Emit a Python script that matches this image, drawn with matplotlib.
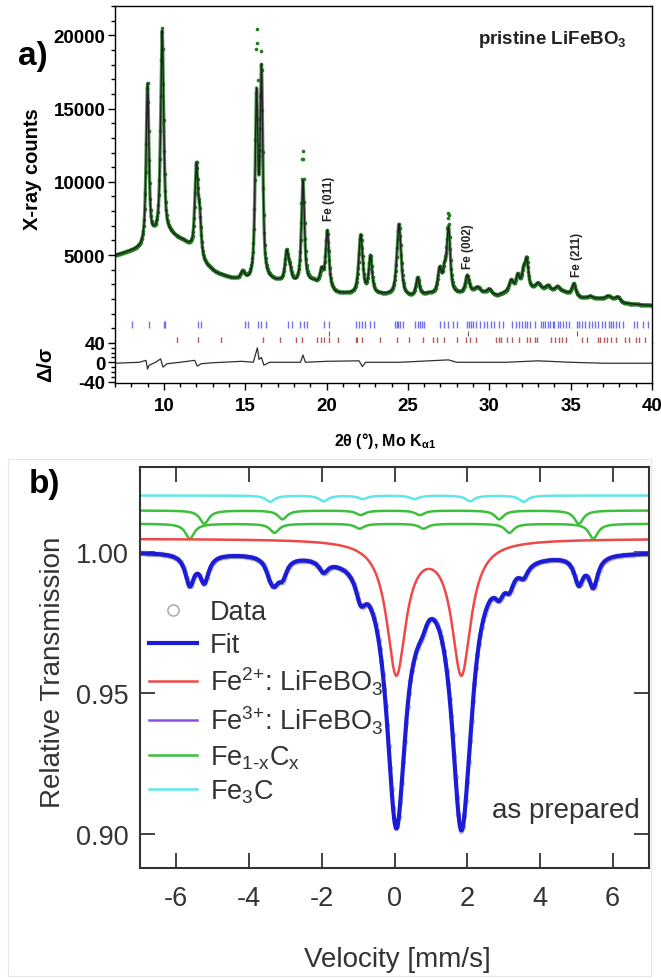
import numpy as np
import matplotlib
matplotlib.use("Agg")
import matplotlib.pyplot as plt
from matplotlib.lines import Line2D
from matplotlib.patches import Rectangle
from matplotlib.ticker import FixedLocator, MultipleLocator

plt.rcParams['font.family'] = ['Liberation Sans', 'DejaVu Sans']
plt.rcParams['mathtext.fontset'] = 'custom'
plt.rcParams['mathtext.rm'] = 'Liberation Sans'
plt.rcParams['mathtext.it'] = 'Liberation Sans:italic'
plt.rcParams['mathtext.bf'] = 'Liberation Sans:bold'
plt.rcParams['axes.unicode_minus'] = False

# ---------------- a) XRD data (read from picture) ----------------
bg_x = [7, 8, 8.6, 9.4, 10.4, 11.2, 11.7, 12.5, 13.2, 14.2, 15.3, 16.6, 17.2, 18.1,
        19.2, 20.6, 21.5, 23.0, 25.2, 26.2, 28.2, 29.1, 30.5, 31.0, 32.8, 34.5,
        35.7, 37.5, 38.3, 40]
bg_y = [4950, 5250, 5400, 6100, 6300, 5900, 5400, 4300, 3750, 3350, 3050, 3150, 3100,
        2950, 3100, 2350, 2300, 2300, 2100, 2300, 2300, 2500, 2200, 2400, 2650, 2500,
        2050, 2000, 1700, 1550]

peak_pos = [9.0, 9.9, 12.0, 12.2, 14.85, 15.7, 16.0, 17.55, 17.75, 18.55, 19.7, 20.05,
            22.1, 22.7, 24.45, 25.6, 26.95, 27.25, 27.5, 28.65, 29.3, 30.0, 31.35,
            31.75, 32.1, 32.3, 33.0, 33.6, 34.2, 35.2, 36.2, 37.3, 37.9]
calc_h = [10800, 14000, 5800, 2600, 550, 12300, 14000, 2000, 800, 7000, 1000, 3900,
          4000, 2500, 4900, 1200, 1600, 1400, 4400, 1150, 300, 350, 750,
          1000, 1150, 1900, 400, 300, 300, 800, 150, 200, 300]
obs_h = [10900, 14300, 5800, 2600, 550, 16300, 14600, 2000, 800, 9000, 1000, 3900,
         4000, 2500, 4900, 1200, 1600, 1400, 5300, 1150, 300, 350, 750,
         1000, 1150, 1900, 400, 300, 300, 800, 150, 200, 300]
peak_w = [0.10, 0.11, 0.11, 0.11, 0.15, 0.10, 0.10, 0.12, 0.12, 0.11, 0.12, 0.12,
          0.14, 0.12, 0.15, 0.12, 0.13, 0.12, 0.12, 0.14, 0.16, 0.16, 0.15,
          0.13, 0.13, 0.12, 0.16, 0.16, 0.16, 0.13, 0.18, 0.18, 0.16]

diff_x = [7, 8.5, 8.9, 9.0, 9.1, 9.5, 9.8, 9.95, 10.2, 11.0, 11.9, 12.05, 12.3, 13.0,
          14.8, 15.5, 15.75, 15.85, 16.0, 16.15, 16.5, 18.4, 18.55, 18.7, 20.0, 22.0,
          22.2, 22.4, 24.5, 27.5, 28.0, 31.0, 33.0, 35.0, 37.0, 40]
diff_y = [-2, 0, 4, -14, -6, 0, 7, -10, -3, 0, 4, -8, -3, -1,
          2, 0, 30, 6, 10, -6, 0, 0, 15, 0, 2, 3,
          -9, 0, 0, 5, 0, 0, 3, 0, -2, -2]

blue_ticks = [8.02, 9.12, 10.0, 10.05, 12.07, 12.29, 14.96, 15.18, 15.77, 15.99, 16.26,
              17.64, 17.86, 18.37, 18.59, 18.81, 19.85, 20.13, 21.83, 21.98, 22.16, 22.38,
              22.64, 22.93, 24.18, 24.3, 24.4, 24.5, 24.69, 25.46, 25.6, 25.75, 25.86, 26.0,
              27.0, 27.22, 27.44, 27.78, 28.0, 28.66, 28.78, 28.9, 29.0, 29.2, 29.43, 29.65,
              29.87, 30.1, 30.3, 30.57, 30.86, 31.4, 31.63, 31.85, 32.0, 32.2, 32.3, 32.5,
              32.84, 33.17, 33.3, 33.45, 33.6, 33.75, 33.9, 34.0, 34.2, 34.35, 34.5, 34.7,
              34.93, 35.37, 35.5, 35.7, 35.9, 36.1, 36.3, 36.5, 36.7, 36.9, 37.1, 37.36,
              37.5, 37.6, 37.8, 38.0, 38.2, 38.9, 39.1, 39.45, 39.78]
red_ticks = [10.81, 12.07, 13.52, 16.1, 17.16, 18.15, 18.48, 19.4, 19.63, 19.85, 20.18,
             20.68, 21.78, 21.89, 22.2, 23.3, 24.32, 25.07, 25.95, 26.56, 26.78, 27.22,
             28.04, 28.59, 28.81, 29.21, 30.42, 30.57, 30.75, 31.08, 31.41, 31.85, 32.29,
             32.51, 32.84, 32.95, 33.79, 34.05, 34.27, 34.49, 34.71, 35.7, 35.99, 36.7,
             36.8, 37.02, 37.24, 37.47, 37.8, 38.35, 38.57, 39.0, 39.23, 39.56]
fe_ticks = [20.17, 28.7, 35.37]
fe_labels = ['Fe (011)', 'Fe (002)', 'Fe (211)']
fe_label_y = [7400, 4150, 3550]

# ---------------- b) Mossbauer components (read from picture) ----------------
dbl_pos = [0.05, 1.84]
dbl_depth = [0.0471, 0.0471]
dbl_base = 1.0046
fecx1_pos = [-5.63, -3.30, -0.96, 0.80, 3.16, 5.47]
fecx1_depth = [0.0053, 0.0032, 0.0017, 0.0017, 0.0032, 0.0053]
fecx1_base = 1.0099
fecx2_pos = [-5.23, -3.08, -0.93, 0.70, 2.88, 5.07]
fecx2_depth = [0.0047, 0.0031, 0.0016, 0.0016, 0.0031, 0.0047]
fecx2_base = 1.0146
fe3c_pos = [-3.42, -1.95, -0.87, 0.55, 2.08, 3.55]
fe3c_depth = [0.0022, 0.0020, 0.0012, 0.0012, 0.0020, 0.0022]
fe3c_base = 1.0199


def pvoigt(x, pos, h, w, eta=0.7):
    out = np.zeros_like(x)
    for c, a, g in zip(pos, h, w):
        d = (x - c) / g
        out += a * (eta / (1 + d ** 2) + (1 - eta) * np.exp(-np.log(2) * d ** 2))
    return out


def lorentz(x, pos, depth, g):
    out = np.zeros_like(x)
    for c, a in zip(pos, depth):
        out += a * g ** 2 / ((x - c) ** 2 + g ** 2)
    return out


fig = plt.figure(figsize=(6.61, 9.79), dpi=100)
W, H = 661, 979


def fax(l, t, r, b):
    return fig.add_axes([l / W, 1 - b / H, (r - l) / W, (b - t) / H])


# ---------------- panel a ----------------
ax = fax(115, 7, 652, 344)
axd = fax(115, 344, 652, 384)

tth = np.linspace(7, 40, 3301)
bg = np.interp(tth, bg_x, bg_y)
calc = bg + pvoigt(tth, peak_pos, calc_h, peak_w)
obs = bg + pvoigt(tth, peak_pos, obs_h, peak_w)

ax.plot(tth, calc, '-', color='#2a7a2a', lw=2.4, alpha=0.8)
ax.plot(tth[::3], obs[::3], 'o', color='#1f7a1f', ms=2.6, mew=0)
ax.plot(tth, calc, '-', color='#202020', lw=1.0)
ax.vlines(blue_ticks, 20, 480, color='#5a5ae6', lw=1.0, alpha=0.85)
ax.vlines(red_ticks, -1000, -560, color='#a84040', lw=1.0, alpha=0.85, clip_on=False)
ax.vlines(fe_ticks, -520, -150, color='#606060', lw=0.8)
for xp, lab, yb in zip(fe_ticks, fe_labels, fe_label_y):
    ax.text(xp, yb, lab, rotation=90, ha='center', va='bottom', fontsize=8.5,
            fontweight='bold', color='#222222')
ax.text(0.952, 0.905, r'pristine LiFeBO$_\mathbf{3}$', transform=ax.transAxes,
        ha='right', va='center', fontsize=13.5, fontweight='bold', color='#222222')

ax.set_xlim(7, 40)
ax.set_ylim(-1000, 22000)
ax.set_xticks([])
ax.yaxis.set_major_locator(FixedLocator([5000, 10000, 15000, 20000]))
ax.yaxis.set_minor_locator(FixedLocator(list(range(0, 22001, 1000))))
ax.spines['bottom'].set_visible(False)
ax.tick_params(axis='y', which='major', direction='out', length=5, width=1,
               labelsize=13.5, pad=2)
ax.tick_params(axis='y', which='minor', direction='out', length=3, width=1)
for lbl in ax.get_yticklabels():
    lbl.set_fontweight('bold')
ax.set_ylabel('X-ray counts', fontsize=14.5, fontweight='bold')
ax.yaxis.set_label_coords(-0.136, 0.52)

axd.plot(diff_x, diff_y, '-', color='#303030', lw=0.9)
axd.set_xlim(7, 40)
axd.set_ylim(-43, 40)
axd.spines['top'].set_visible(False)
axd.yaxis.set_major_locator(FixedLocator([-40, 0, 40]))
axd.yaxis.set_minor_locator(MultipleLocator(10))
axd.xaxis.set_major_locator(MultipleLocator(5))
axd.xaxis.set_minor_locator(MultipleLocator(1))
axd.tick_params(which='major', direction='out', length=5, width=1, labelsize=13.5, pad=2)
axd.tick_params(which='minor', direction='out', length=3, width=1)
axd.tick_params(axis='x', labelsize=13.5, pad=5)
for lbl in axd.get_yticklabels() + axd.get_xticklabels():
    lbl.set_fontweight('bold')
axd.set_ylabel('Δ/σ', fontsize=15, fontweight='bold')
axd.yaxis.set_label_coords(-0.112, 0.5)
axd.set_xlabel(r'2θ (°), Mo K$_\mathbf{\alpha 1}$', fontsize=11.5, fontweight='bold',
               va='center')
axd.xaxis.set_label_coords(0.502, -1.425)
for a in (ax, axd):
    for s in a.spines.values():
        s.set_linewidth(1.0)

fig.text(33 / W, 1 - 57 / H, 'a)', fontsize=24, fontweight='bold', ha='center', va='center')

# ---------------- panel b ----------------
fig.patches.append(Rectangle((8 / W, 1 - 977 / H), 643 / W, 517 / H, transform=fig.transFigure,
                             fill=False, ec='#e6e6e6', lw=0.8))
bx = fax(140, 468, 649, 869)

v = np.linspace(-7, 7, 1401)
red = lorentz(v, dbl_pos, dbl_depth, 0.32)
g1 = lorentz(v, fecx1_pos, fecx1_depth, 0.15)
g2 = lorentz(v, fecx2_pos, fecx2_depth, 0.15)
cy = lorentz(v, fe3c_pos, fe3c_depth, 0.15)
fit = 1.0 - 2.0 * (red + g1 + g2 + cy)

bx.plot(v[::4], fit[::4], 'o', ms=3.2, mfc='none', mec='#a8a8a8', mew=0.8, alpha=0.8)
bx.plot(v, fe3c_base - cy, color='#5fe6ea', lw=1.8)
bx.plot(v, fecx2_base - g2, color='#3cc03c', lw=1.8)
bx.plot(v, fecx1_base - g1, color='#3cc03c', lw=1.8)
bx.plot(v, dbl_base - red, color='#f04848', lw=1.8)
bx.plot(v, fit, color='#1c1cd8', lw=3.0)

bx.set_xlim(-7, 7)
bx.set_ylim(0.888, 1.030)
bx.set_xticks([-6, -4, -2, 0, 2, 4, 6])
bx.set_yticks([0.90, 0.95, 1.00])
bx.set_yticklabels(['0.90', '0.95', '1.00'])
bx.tick_params(direction='in', length=11, width=1.3, top=True, right=True,
               labelsize=19.5, labelcolor='#333333', color='#333333', pad=8)
bx.tick_params(axis='x', pad=12)
for s in bx.spines.values():
    s.set_linewidth(1.5)
    s.set_color('#333333')
bx.set_ylabel('Relative Transmission', fontsize=20, color='#333333')
bx.yaxis.set_label_coords(-0.145, 0.49)
bx.set_xlabel('Velocity [mm/s]', fontsize=20, color='#333333', va='center')
bx.xaxis.set_label_coords(0.505, -0.227)
bx.text(6.75, 0.9087, 'as prepared', ha='right', va='center', fontsize=20, color='#333333')

handles = [
    Line2D([], [], ls='none', marker='o', ms=8, mfc='none', mec='#b0b0b0', mew=1.2),
    Line2D([], [], color='#1c1cd8', lw=3.0),
    Line2D([], [], color='#f04848', lw=1.8),
    Line2D([], [], color='#8a4fe0', lw=1.8),
    Line2D([], [], color='#3cc03c', lw=1.8),
    Line2D([], [], color='#5fe6ea', lw=1.8),
]
labels = ['Data', 'Fit', r'Fe$^{2{+}}$: LiFeBO$_3$', r'Fe$^{3{+}}$: LiFeBO$_3$',
          r'Fe$_\mathrm{1\text{-}x}$C$_\mathrm{x}$', r'Fe$_3$C']
leg = bx.legend(handles, labels, loc='upper left', bbox_to_anchor=(0.018, 0.67),
                frameon=False, fontsize=19.5, handlelength=1.75, handletextpad=0.5,
                labelspacing=0.25, borderpad=0, borderaxespad=0)
for t in leg.get_texts():
    t.set_color('#333333')

fig.text(44 / W, 1 - 485 / H, 'b)', fontsize=24, fontweight='bold', ha='center', va='center')

fig.savefig('out.png', dpi=100)
